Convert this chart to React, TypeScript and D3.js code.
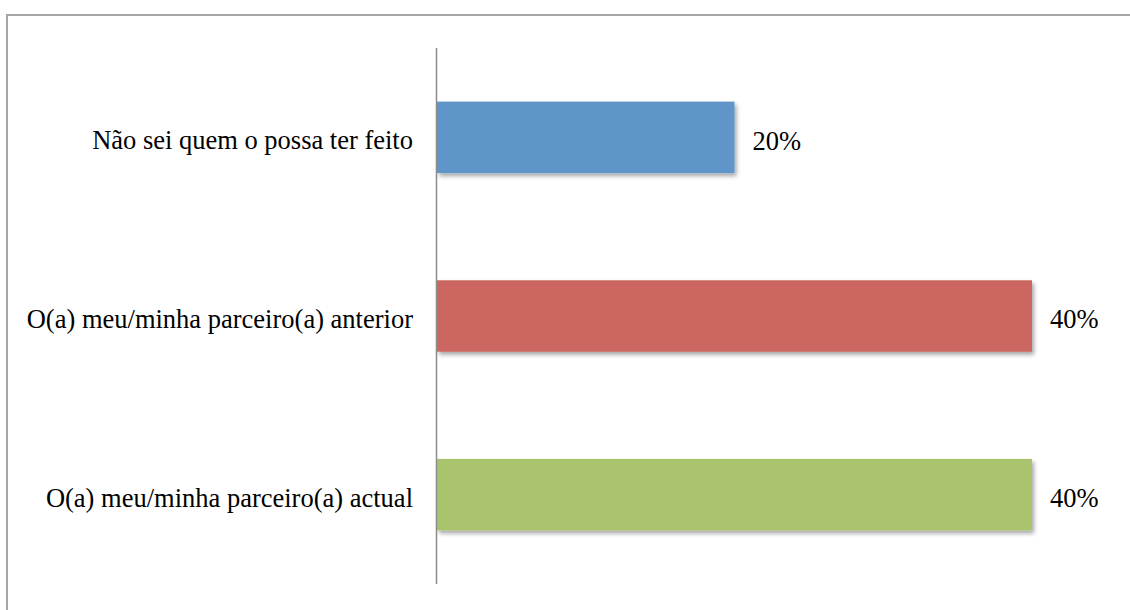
import { useEffect, useRef } from "react";
import * as d3 from "d3";

// chart values
const categories = [
  "Não sei quem o possa ter feito",
  "O(a) meu/minha parceiro(a) anterior",
  "O(a) meu/minha parceiro(a) actual",
];
const values = [0.2, 0.4, 0.4];
const colors = ["#5F95C8", "#CC6660", "#A9C46C"];

const serif = '"Liberation Serif", "Times New Roman", Times, serif';

export default function App() {
  const svgRef = useRef<SVGSVGElement>(null);

  useEffect(() => {
    const width = 1130;
    const height = 610;
    const svg = d3.select(svgRef.current).attr("width", width).attr("height", height);
    svg.selectAll("*").remove();

    // shadow under the bars
    const defs = svg.append("defs");
    defs
      .append("filter")
      .attr("id", "barShadow")
      .attr("x", "-5%")
      .attr("y", "-10%")
      .attr("width", "115%")
      .attr("height", "130%")
      .append("feDropShadow")
      .attr("dx", 2)
      .attr("dy", 3)
      .attr("stdDeviation", 2)
      .attr("flood-color", "#000")
      .attr("flood-opacity", 0.35);

    // outer frame (top and left only visible)
    svg
      .append("path")
      .attr("d", `M7,${height} L7,15 L${width},15`)
      .attr("fill", "none")
      .attr("stroke", "#a6a6a6")
      .attr("stroke-width", 2);

    // scales
    const x0 = 437;
    const xScale = d3.scaleLinear().domain([0, 0.4]).range([x0, 1032]);
    const yScale = d3
      .scaleBand<string>()
      .domain(categories)
      .range([48, 584])
      .paddingInner(0.6)
      .paddingOuter(0.3);

    // bars
    svg
      .append("g")
      .selectAll("rect")
      .data(categories)
      .join("rect")
      .attr("x", x0)
      .attr("y", (d) => yScale(d)!)
      .attr("width", (d, i) => xScale(values[i]) - x0)
      .attr("height", yScale.bandwidth())
      .attr("fill", (d, i) => colors[i])
      .attr("filter", "url(#barShadow)");

    // vertical axis line
    svg
      .append("line")
      .attr("x1", x0 - 0.5)
      .attr("x2", x0 - 0.5)
      .attr("y1", 48)
      .attr("y2", 584)
      .attr("stroke", "#8c8c8c")
      .attr("stroke-width", 1.5);

    // category labels
    svg
      .append("g")
      .selectAll("text")
      .data(categories)
      .join("text")
      .attr("x", 413)
      .attr("y", (d) => yScale(d)! + yScale.bandwidth() / 2)
      .attr("dy", "0.45em")
      .attr("text-anchor", "end")
      .style("font-family", serif)
      .style("font-size", "26.5px")
      .attr("fill", "#000")
      .text((d) => d);

    // value labels
    svg
      .append("g")
      .selectAll("text")
      .data(categories)
      .join("text")
      .attr("x", (d, i) => xScale(values[i]) + 18)
      .attr("y", (d) => yScale(d)! + yScale.bandwidth() / 2)
      .attr("dy", "0.46em")
      .style("font-family", serif)
      .style("font-size", "26.5px")
      .attr("fill", "#000")
      .text((d, i) => d3.format(".0%")(values[i]));
  }, []);

  return (
    <svg
      ref={svgRef}
      style={{ position: "absolute", left: 0, top: 0, background: "#fff" }}
    ></svg>
  );
}
